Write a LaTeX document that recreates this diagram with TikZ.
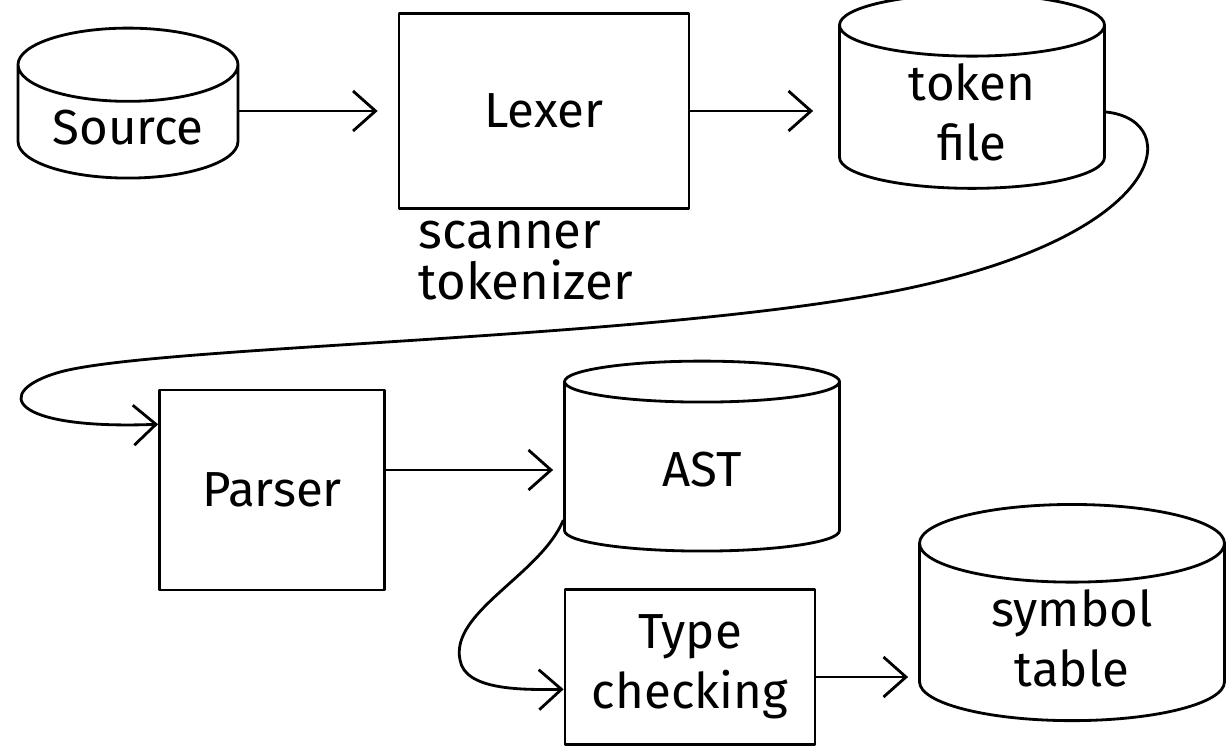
\documentclass[tikz,border=0pt]{standalone}
\usepackage{fontspec}
\setmainfont{Fira Sans}
\usepackage{tikz}
\usetikzlibrary{positioning}
\usetikzlibrary{calc}
\usetikzlibrary{shapes.geometric}
\usetikzlibrary{arrows.meta}
\tikzset{
    % Open hand drawn looking arrow heads
    >={Straight Barb[length=4.5mm,width=8mm]},
%
    % Common pen for every stroke
    pen/.style={line width=1.6pt, line cap=round, line join=round},
%
    % A storage drum, standing up
    store icon/.style={
        pen, draw, cylinder, shape border rotate=90, aspect=0.45,
        align=center, font=\fontsize{28}{34}\selectfont},
%
    % A processing stage
    stage box/.style={
        pen, draw, rectangle, align=center,
        font=\fontsize{28}{34}\selectfont},
%
    % Connector between stages
    flow/.style={pen, ->}}

\begin{document}
\begin{tikzpicture}[x=0.02cm, y=-0.02cm]

\useasboundingbox (0,0) rectangle (1231,753);

\node (source) [store icon, minimum width=44mm, minimum height=30mm]
    at (128,128) {Source};
\node (lexer) [stage box, minimum width=58mm, minimum height=39mm]
    at (544,111) {Lexer};
\node (tokens) [store icon, minimum width=53mm, minimum height=35mm]
    at (972,112) {token\\file};

\node (aliases) [below=1mm of lexer.south west, anchor=north west,
    xshift=3mm, align=left, font=\fontsize{29}{29}\selectfont]
    {scanner\\tokenizer};

\node (parser) [stage box, minimum width=45mm, minimum height=40mm]
    at (272,490) {Parser};
\node (ast) [store icon, minimum width=55mm, minimum height=38mm]
    at (702,470) {AST};

\node (checker) [stage box, minimum width=50mm, minimum height=31mm]
    at (690,667) {Type\\checking};
\node (symbols) [store icon, minimum width=61mm, minimum height=36mm]
    at (1072,638) {symbol\\table};

\draw [flow, shorten >=4mm] (source.east |- lexer.west) -- (lexer.west);
\draw [flow, shorten >=5mm] (lexer.east) -- (lexer.east -| tokens.west);
\draw [flow, shorten >=2mm] (parser.east |- ast.west) -- (ast.west);
\draw [flow, shorten >=2mm]
    ([yshift=-2mm]checker.east) -- ([yshift=-2mm]checker.east -| symbols.west);

\draw [flow] (tokens.east)
    .. controls (1185,120) and (1170,235) .. (900,290)
    .. controls (650,340) and (160,345) .. (60,372)
    .. controls (-10,392) and (10,430) .. (parser.150);
\draw [flow] (ast.-160)
    .. controls (540,575) and (450,612) .. (460,660)
    .. controls (465,690) and (520,690) .. (checker.-170);

\end{tikzpicture}
\end{document}
